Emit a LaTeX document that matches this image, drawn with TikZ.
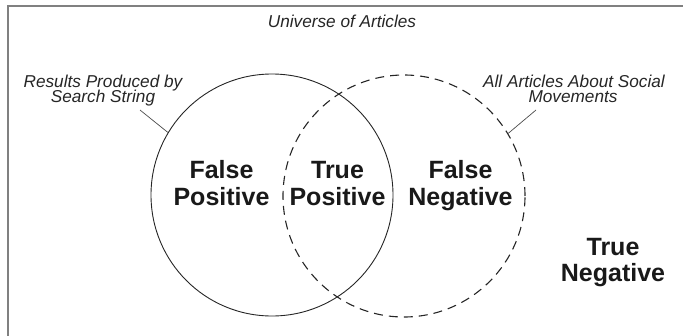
\documentclass[tikz,border=0pt]{standalone}
\usepackage{fontspec}
\setmainfont{Liberation Sans}
\begin{document}
\begin{tikzpicture}[x=1pt,y=-1pt,
  frameline/.style={draw=black!50, line width=1.6pt},
  setline/.style={draw=black!85, line width=0.9pt},
  dashline/.style={draw=black!85, line width=1.1pt, dash pattern=on 9pt off 6pt},
  leader/.style={draw=black!70, line width=0.7pt},
  smalllab/.style={font=\fontsize{17.2}{17.2}\selectfont\itshape, inner sep=0pt, anchor=base, text=black!85},
  biglab/.style={font=\fontsize{25}{25}\selectfont\bfseries, inner sep=0pt, anchor=base, text=black!90},
  setcircle/.style={circle, minimum size=242pt, inner sep=0pt}
]
\useasboundingbox (0,0) rectangle (683,335);
\begin{scope}
\clip (0,0) rectangle (683,335);
\draw[frameline] (8,6) rectangle (720,360);
\end{scope}
% sets
\node[setcircle, setline] (res) at (272,195) {};
\node[setcircle, dashline] (all) at (404,196) {};
% titles
\node[smalllab] (univ) at (342,27) {Universe of Articles};
\node[smalllab] (res1) at (103,87) {Results Produced by};
\node[smalllab] (res2) at (103,102.5) {Search String};
\node[smalllab] (all1) at (574,87) {All Articles About Social};
\node[smalllab] (all2) at (573,102.5) {Movements};
% leaders
\coordinate (resl) at (140,110);
\coordinate (alll) at (536,110);
\draw[leader] (resl) -- (res.149);
\draw[leader] (alll) -- (all.31);
% regions
\node[biglab] (fp1) at (221.5,178) {False};
\node[biglab] (fp2) at (221.5,205) {Positive};
\node[biglab] (tp1) at (337.5,178) {True};
\node[biglab] (tp2) at (337.5,205) {Positive};
\node[biglab] (fn1) at (460.5,178) {False};
\node[biglab] (fn2) at (460.5,205) {Negative};
\node[biglab] (tn1) at (613,255) {True};
\node[biglab] (tn2) at (613,281) {Negative};
\end{tikzpicture}
\end{document}
